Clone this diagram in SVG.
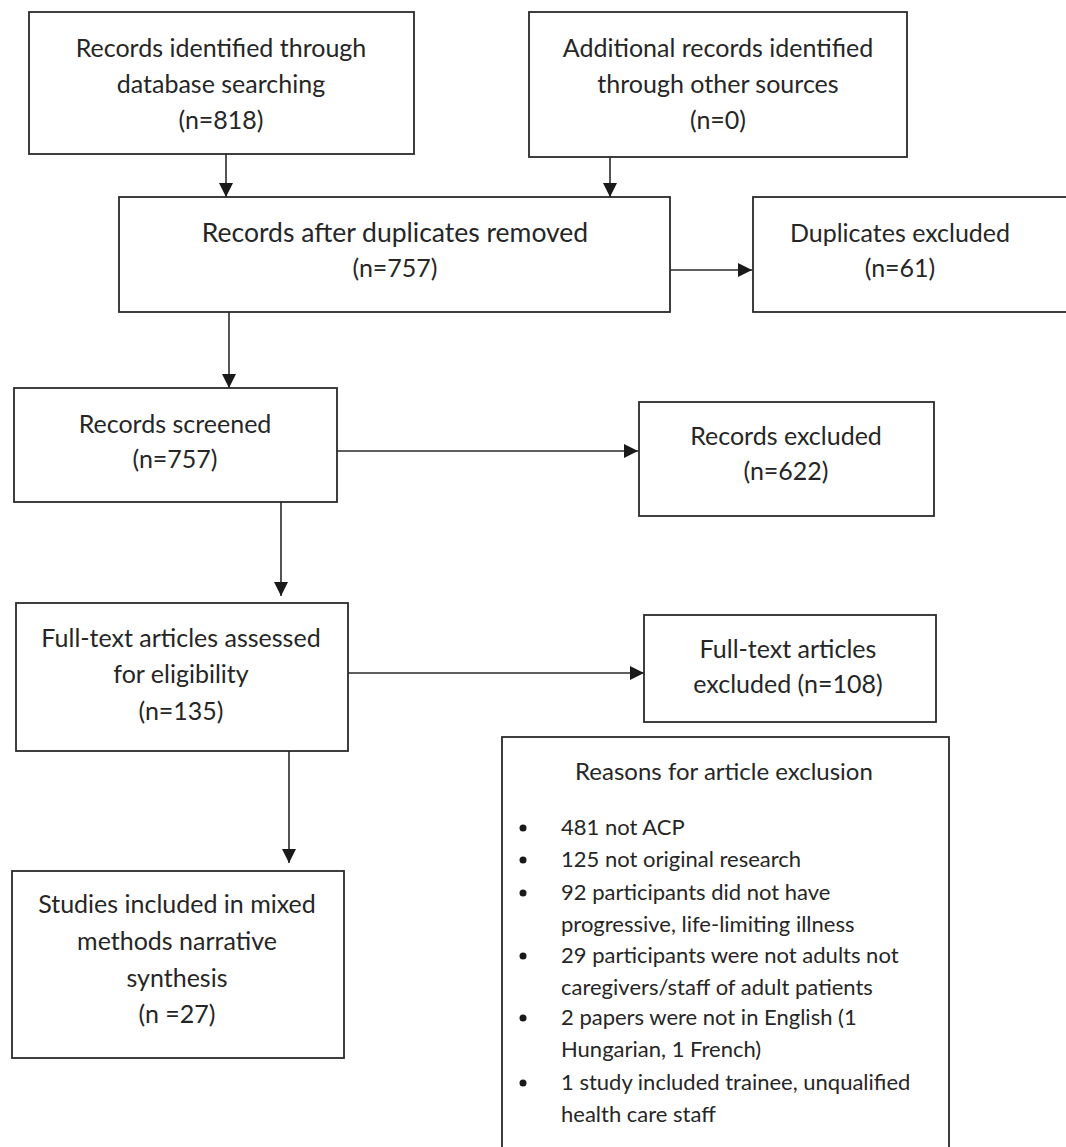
<svg xmlns="http://www.w3.org/2000/svg" width="1066" height="1147" viewBox="0 0 1066 1147">
<defs>
<style>
.box{fill:#fff;stroke:#2a2a2a;stroke-width:1.8}
.t{font-family:Lato,"Liberation Sans",sans-serif;font-size:25px;fill:#262626;text-anchor:middle}
.h{font-family:Lato,"Liberation Sans",sans-serif;font-size:24px;fill:#262626;text-anchor:middle}
.l{font-family:Lato,"Liberation Sans",sans-serif;font-size:22px;fill:#262626}
.c{stroke:#2a2a2a;stroke-width:1.6;fill:none;marker-end:url(#ah)}
</style>
<marker id="ah" markerUnits="userSpaceOnUse" markerWidth="14" markerHeight="14" viewBox="0 0 12 12" refX="12" refY="6" orient="auto">
<path d="M0,0 L12,6 L0,12 Z" fill="#1a1a1a"/>
</marker>
</defs>
<rect width="1066" height="1147" fill="#fff"/>
<g id="connectors">
<line class="c" x1="226" y1="154" x2="226" y2="197"/>
<line class="c" x1="610" y1="157" x2="610" y2="197"/>
<line class="c" x1="670" y1="270" x2="752" y2="270"/>
<line class="c" x1="229" y1="312" x2="229" y2="388"/>
<line class="c" x1="337" y1="451" x2="638" y2="451"/>
<line class="c" x1="281" y1="502" x2="281" y2="596"/>
<line class="c" x1="348" y1="673" x2="644" y2="673"/>
<line class="c" x1="289" y1="751" x2="289" y2="863"/>
</g>
<g id="db">
<rect class="box" x="29" y="12" width="385" height="142"/>
<text class="t" x="221" y="57">Records identified through</text>
<text class="t" x="221" y="93">database searching</text>
<text class="t" x="221" y="129">(n=818)</text>
</g>
<g id="other">
<rect class="box" x="529" y="12" width="378" height="145"/>
<text class="t" x="718" y="57">Additional records identified</text>
<text class="t" x="718" y="93">through other sources</text>
<text class="t" x="718" y="129">(n=0)</text>
</g>
<g id="dedup">
<rect class="box" x="119" y="197" width="551" height="115"/>
<text class="t" x="395" y="242" style="font-size:26.5px">Records after duplicates removed</text>
<text class="t" x="395" y="277">(n=757)</text>
</g>
<g id="dupex">
<rect class="box" x="753" y="197" width="320" height="115"/>
<text class="t" x="900" y="242">Duplicates excluded</text>
<text class="t" x="900" y="277">(n=61)</text>
</g>
<g id="screened">
<rect class="box" x="14" y="388" width="323" height="114"/>
<text class="t" x="175" y="433">Records screened</text>
<text class="t" x="175" y="468">(n=757)</text>
</g>
<g id="recex">
<rect class="box" x="639" y="402" width="295" height="114"/>
<text class="t" x="786" y="445">Records excluded</text>
<text class="t" x="786" y="480">(n=622)</text>
</g>
<g id="fulltext">
<rect class="box" x="16" y="603" width="332" height="148"/>
<text class="t" x="181" y="647">Full-text articles assessed</text>
<text class="t" x="181" y="683">for eligibility</text>
<text class="t" x="181" y="720">(n=135)</text>
</g>
<g id="ftex">
<rect class="box" x="644" y="615" width="292" height="107"/>
<text class="t" x="788" y="658">Full-text articles</text>
<text class="t" x="788" y="693">excluded (n=108)</text>
</g>
<g id="included">
<rect class="box" x="12" y="871" width="332" height="187"/>
<text class="t" x="177" y="913">Studies included in mixed</text>
<text class="t" x="177" y="950">methods narrative</text>
<text class="t" x="177" y="987">synthesis</text>
<text class="t" x="177" y="1023">(n =27)</text>
</g>
<g id="reasons">
<rect class="box" x="502" y="737" width="447" height="420"/>
<text class="h" x="724" y="780">Reasons for article exclusion</text>
<g fill="#1a1a1a">
<circle cx="523" cy="828" r="3.5"/>
<circle cx="523" cy="860" r="3.5"/>
<circle cx="523" cy="893" r="3.5"/>
<circle cx="523" cy="956" r="3.5"/>
<circle cx="523" cy="1018" r="3.5"/>
<circle cx="523" cy="1083" r="3.5"/>
</g>
<text class="l" x="561" y="835">481 not ACP</text>
<text class="l" x="561" y="867">125 not original research</text>
<text class="l" x="561" y="900">92 participants did not have</text>
<text class="l" x="561" y="932">progressive, life-limiting illness</text>
<text class="l" x="561" y="963">29 participants were not adults not</text>
<text class="l" x="561" y="995">caregivers/staff of adult patients</text>
<text class="l" x="561" y="1025">2 papers were not in English (1</text>
<text class="l" x="561" y="1057">Hungarian, 1 French)</text>
<text class="l" x="561" y="1090">1 study included trainee, unqualified</text>
<text class="l" x="561" y="1122">health care staff</text>
</g>
</svg>
